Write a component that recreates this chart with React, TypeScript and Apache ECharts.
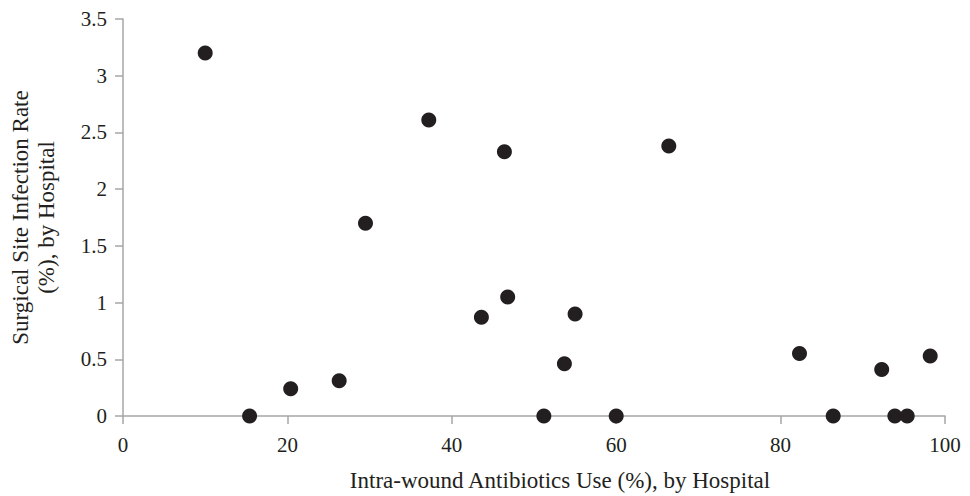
import React, { useEffect, useRef } from "react";
import * as echarts from "echarts";

const antibioticsUse: number[] = [10.0, 15.4, 20.4, 26.3, 29.5, 37.2, 43.6, 46.4, 46.8, 51.2, 53.7, 55.0, 60.0, 66.4, 82.3, 86.4, 92.3, 93.9, 95.4, 98.2];
const infectionRate: number[] = [3.2, 0, 0.24, 0.31, 1.7, 2.61, 0.87, 2.33, 1.05, 0, 0.46, 0.9, 0, 2.38, 0.55, 0, 0.41, 0, 0, 0.53];

const xTitle = "Intra-wound Antibiotics Use (%), by Hospital";
const yTitle = "Surgical Site Infection Rate\n(%), by Hospital";

export default function App() {
  const ref = useRef<HTMLDivElement>(null);
  useEffect(() => {
    if (!ref.current) return;
    const chart = echarts.init(ref.current, undefined, { renderer: "svg" });
    const font = "'Liberation Serif', 'Times New Roman', serif";
    const axisColor = "#a6a6a6";
    const textColor = "#231f20";
    chart.setOption({
      animation: false,
      grid: { left: 123, right: 25, top: 19, bottom: 80, containLabel: false, outerBoundsMode: "none" },
      xAxis: {
        type: "value",
        min: 0,
        max: 100,
        interval: 20,
        name: xTitle,
        nameLocation: "middle",
        nameGap: 53,
        nameTextStyle: { fontFamily: font, fontSize: 23, color: textColor, padding: [0, 0, 0, 52] },
        axisLine: { show: true, lineStyle: { color: axisColor, width: 1.5 } },
        axisTick: { show: true, length: 8, lineStyle: { color: axisColor, width: 1.5 } },
        axisLabel: { fontFamily: font, fontSize: 21, color: textColor, margin: 18 },
        splitLine: { show: false },
      },
      yAxis: {
        type: "value",
        min: 0,
        max: 3.5,
        interval: 0.5,
        name: yTitle,
        nameLocation: "middle",
        nameGap: 64,
        nameTextStyle: { fontFamily: font, fontSize: 23, color: textColor, lineHeight: 26 },
        axisLine: { show: true, lineStyle: { color: axisColor, width: 1.5 } },
        axisTick: { show: true, length: 8, lineStyle: { color: axisColor, width: 1.5 } },
        axisLabel: { fontFamily: font, fontSize: 21, color: textColor, margin: 16 },
        splitLine: { show: false },
      },
      series: [
        {
          type: "scatter",
          symbol: "circle",
          symbolSize: 15,
          itemStyle: { color: "#231f20", opacity: 1 },
          data: antibioticsUse.map((x, i) => [x, infectionRate[i]]),
        },
      ],
    });
    return () => chart.dispose();
  }, []);
  return <div ref={ref} style={{ width: 970, height: 496, position: "absolute", left: 0, top: 0 }} />;
}
